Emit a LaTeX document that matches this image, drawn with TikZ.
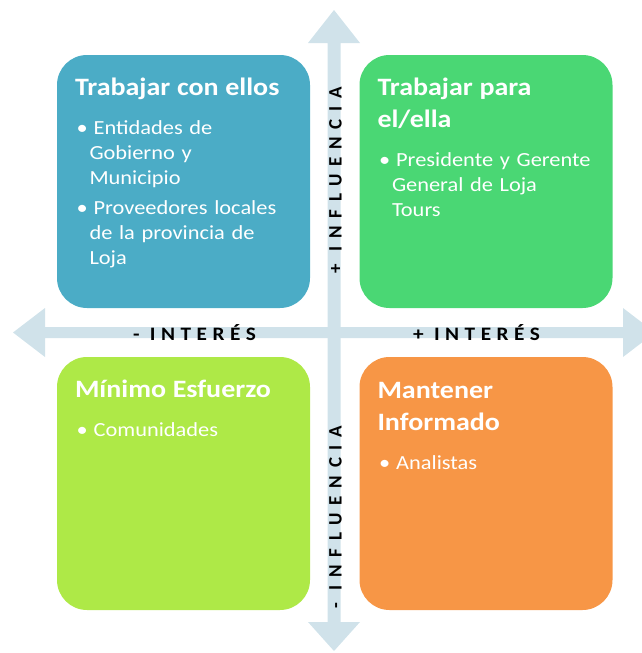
\documentclass[tikz,border=0pt]{standalone}
\usepackage{fontspec}
\setmainfont[FakeStretch=1.12]{Carlito}
\newfontfamily\axisfont[FakeStretch=1.12, LetterSpace=29]{Carlito}
\newfontfamily\axisvfont[LetterSpace=41]{Carlito}
\usepackage{enumitem}
\usetikzlibrary{positioning,calc}

\definecolor{axisgray}{HTML}{D0E2EA}
\definecolor{quadblue}{HTML}{4BACC6}
\definecolor{quadgreen}{HTML}{4AD774}
\definecolor{quadlime}{HTML}{AEE947}
\definecolor{quadorange}{HTML}{F79646}

\setlist[itemize]{label=\textbullet, leftmargin=14.5pt, labelsep=6pt, labelwidth=7pt, align=left,
  topsep=14pt, itemsep=5pt, parsep=0pt, partopsep=0pt}

\newcommand{\quadtitle}[1]{{\bfseries\fontsize{25}{32}\selectfont #1\par}}

\begin{document}
\begin{tikzpicture}[x=1pt, y=-1pt,
    quad/.style={rounded corners=30pt, minimum width=253pt, minimum height=253pt, inner sep=0pt},
    txt/.style={anchor=north west, inner sep=0pt, text width=232pt, align=left, text=white,
      font=\fontsize{20}{25}\selectfont},
    axislbl/.style={font=\axisfont\bfseries\fontsize{19}{22}\selectfont, inner sep=0pt, anchor=base},
    axisvlbl/.style={font=\axisvfont\bfseries\fontsize{19}{22}\selectfont, inner sep=0pt, anchor=base, rotate=90}]
  \useasboundingbox (0,0) rectangle (642,653);
  % axes
  \fill[axisgray] (327.5,43) -- (308,43) -- (334,10) -- (360,43) -- (340.5,43)
    -- (340.5,622) -- (360,622) -- (334,651) -- (308,622) -- (327.5,622) -- cycle;
  \fill[axisgray] (45,327) -- (45,308) -- (13,332.5) -- (45,357) -- (45,338)
    -- (623,338) -- (623,357) -- (655,332.5) -- (623,308) -- (623,327) -- cycle;
  % quadrants
  \node[quad, fill=quadblue] (conellos) at (183.5,181.5) {};
  \node[quad, fill=quadgreen] (paraella) at (486,181.5) {};
  \node[quad, fill=quadlime] (minimo) at (183.5,483.5) {};
  \node[quad, fill=quadorange] (informado) at (486,483.5) {};
  \node[txt] (conellosT) at ($(conellos.north west)+(18,23)$) {\quadtitle{Trabajar con ellos}
    \begin{itemize}
      \item Entidades de\\Gobierno y\\Municipio
      \item Proveedores locales\\de la provincia de\\Loja
    \end{itemize}};
  \node[txt] (paraellaT) at ($(paraella.north west)+(18,23)$) {\quadtitle{Trabajar para\\el/ella}
    \begin{itemize}
      \item Presidente y Gerente\\General de Loja\\Tours
    \end{itemize}};
  \node[txt] (minimoT) at ($(minimo.north west)+(18,23)$) {\quadtitle{Mínimo Esfuerzo}
    \begin{itemize}
      \item Comunidades
    \end{itemize}};
  \node[txt] (informadoT) at ($(informado.north west)+(18,25)$) {\quadtitle{Mantener\\Informado}
    \begin{itemize}
      \item Analistas
    \end{itemize}};
  % axis labels
  \node[axisvlbl] (masinf) at (341.5,180) {+ INFLUENCIA};
  \node[axisvlbl] (menosinf) at (341.5,517) {- INFLUENCIA};
  \node[axislbl] (menosint) at (194.5,340) {- INTERÉS};
  \node[axislbl] (masint) at (476.5,340) {+ INTERÉS};
\end{tikzpicture}
\end{document}
